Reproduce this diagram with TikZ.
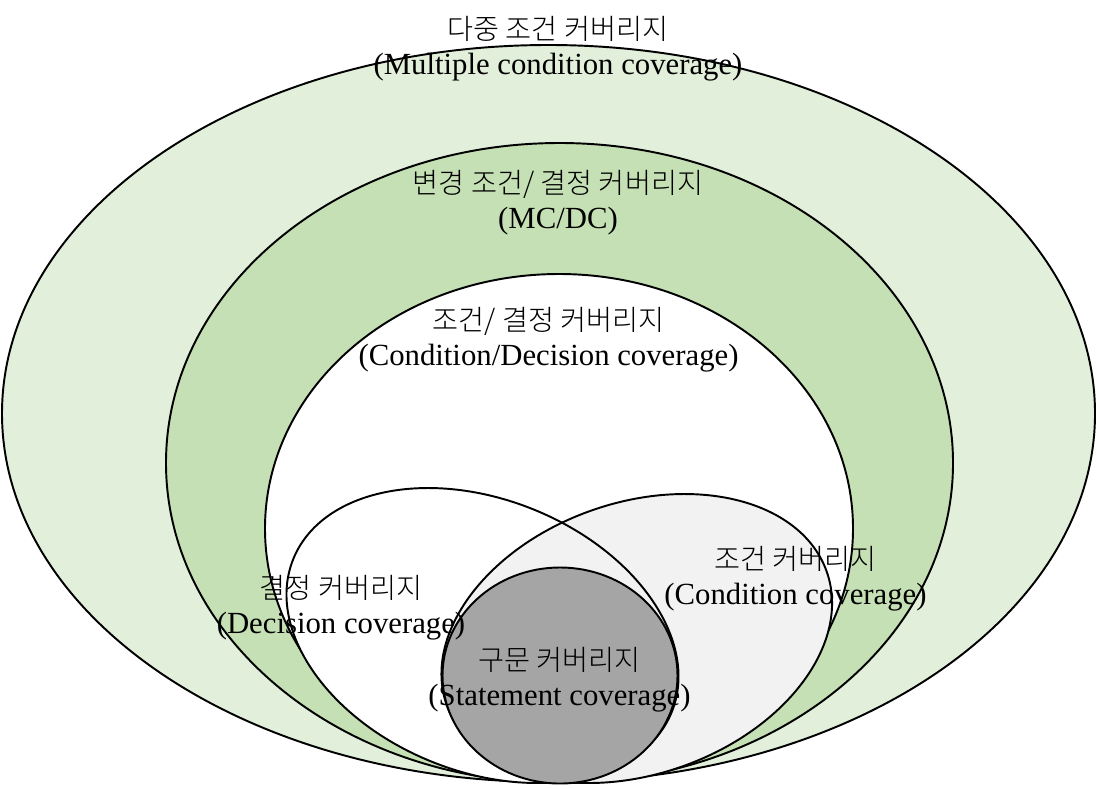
\documentclass[tikz,border=0pt]{standalone}
\usepackage{fontspec}
\setmainfont{Liberation Serif}
\IfFontExistsTF{Noto Sans CJK KR Light}
  {\newfontfamily\kofont{Noto Sans CJK KR Light}}
  {\newfontfamily\kofont{Noto Sans CJK KR}}
\usepackage{tikz}
\usetikzlibrary{positioning,calc}
\definecolor{lightgreen}{HTML}{E2EFDA}
\definecolor{midgreen}{HTML}{C5E0B4}
\definecolor{lightgrey}{HTML}{F2F2F2}
\definecolor{midgrey}{HTML}{A5A5A5}
\newcommand{\kr}[1]{{\kofont\fontsize{16.1}{20}\selectfont #1}}
\tikzset{
  area/.style={draw=black, line width=1.1pt},
  label text/.style={align=center, inner sep=0pt,
    font=\fontsize{17.5}{19.8}\selectfont}
}

\begin{document}
\begin{tikzpicture}[x=0.02cm, y=-0.02cm]
      \useasboundingbox (0,0) rectangle (1097,788);

      % nested coverage regions
      \draw[area, fill=lightgreen] (548.5,413.5) ellipse [x radius=546.5, y radius=368.5];
      \draw[area, fill=midgreen] (559.5,463) ellipse [x radius=393.5, y radius=320];
      \draw[area, fill=white] (559,528.5) ellipse [x radius=294, y radius=254.5];

      % decision and condition
      \fill[white, rotate around={-22:(482.5,635.5)}] (482.5,635.5) ellipse [x radius=204.1, y radius=136];
      \fill[lightgrey, rotate around={19.35:(636.75,638.5)}] (636.75,638.5) ellipse [x radius=201.4, y radius=135.8];
      \draw[area, rotate around={-22:(482.5,635.5)}] (482.5,635.5) ellipse [x radius=204.1, y radius=136];
      \draw[area, rotate around={19.35:(636.75,638.5)}] (636.75,638.5) ellipse [x radius=201.4, y radius=135.8];

      % statement
      \draw[area, fill=midgrey] (560,675.5) ellipse [x radius=117.5, y radius=108];

      \node[label text] (multiple) at (558,49) {\kr{다중 조건 커버리지}\\(Multiple condition coverage)};
      \node[label text] (mcdc) at (558,203) {\kr{변경 조건/ 결정 커버리지}\\(MC/DC)};
      \node[label text] (condec) at (548.5,340) {\kr{조건/ 결정 커버리지}\\(Condition/Decision coverage)};
      \node[label text] (decision) at (341,608) {\kr{결정 커버리지}\\(Decision coverage)};
      \node[label text] (condition) at (795.5,579) {\kr{조건 커버리지}\\(Condition coverage)};
      \node[label text] (statement) at (559.5,680) {\kr{구문 커버리지}\\(Statement coverage)};
\end{tikzpicture}
\end{document}
